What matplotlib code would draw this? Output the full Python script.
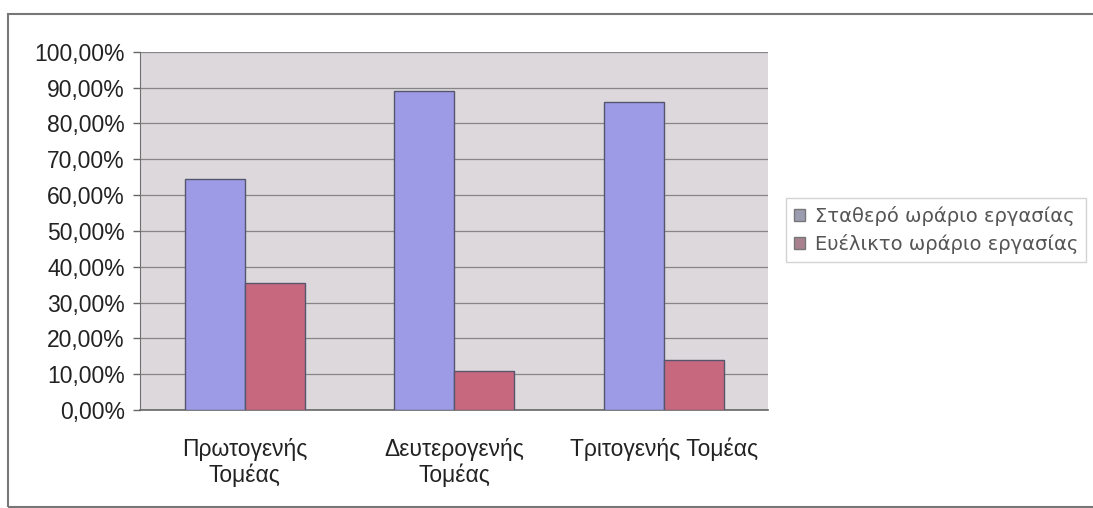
import numpy as np
import matplotlib.pyplot as plt
from matplotlib.patches import Rectangle, Patch
from matplotlib.ticker import FuncFormatter

# Sector shares of fixed vs flexible working hours
sectors = ['Πρωτογενής\nΤομέας', 'Δευτερογενής\nΤομέας', 'Τριτογενής Τομέας']
fixed_hours = [64.5, 89.0, 86.0]
flexible_hours = [35.5, 11.0, 14.0]
series_names = ['Σταθερό ωράριο εργασίας', 'Ευέλικτο ωράριο εργασίας']

blue = '#9d9be6'
red = '#c8687e'

fig = plt.figure(figsize=(10.93, 5.08), dpi=100, facecolor='white')
ax = fig.add_axes([0.128, 0.193, 0.575, 0.705])
ax.set_facecolor('#dcd8dc')

x = np.arange(len(sectors))
w = 0.287
ax.bar(x - w / 2, fixed_hours, width=w, color=blue, edgecolor='#55556e', linewidth=1.0, zorder=3)
ax.bar(x + w / 2, flexible_hours, width=w, color=red, edgecolor='#55556e', linewidth=1.0, zorder=3)

ax.set_xlim(-0.5, len(sectors) - 0.5)
ax.set_ylim(0, 100)
ax.set_yticks(np.arange(0, 101, 10))
ax.yaxis.set_major_formatter(FuncFormatter(lambda v, p: f'{v:.2f}%'.replace('.', ',')))
ax.yaxis.grid(True, color='#858585', linewidth=0.9, zorder=1)

ax.set_xticks(x)
ax.set_xticklabels(sectors, family=['Liberation Sans', 'DejaVu Sans'],
                   fontsize=16.5, color='#222222', linespacing=1.15)
ax.tick_params(axis='x', length=0, pad=20)
ax.tick_params(axis='y', length=5, width=1, color='#666666', labelsize=16.5, labelcolor='#222222', pad=6)
for lab in ax.get_yticklabels():
    lab.set_family(['Liberation Sans', 'DejaVu Sans'])

for side in ['top', 'right']:
    ax.spines[side].set_visible(False)
ax.spines['left'].set_color('#707070')
ax.spines['bottom'].set_color('#666666')
ax.spines['bottom'].set_linewidth(1.2)

# Legend with muted square markers
handles = [Patch(facecolor='#9c9cb0', edgecolor='#777777'),
           Patch(facecolor='#a8808e', edgecolor='#777777')]
leg = fig.legend(handles, series_names, loc='center left',
                 bbox_to_anchor=(776 / 1093, 1 - 230 / 508),
                 frameon=True, fancybox=False, handlelength=0.6, handleheight=0.6,
                 handletextpad=0.5, labelspacing=0.4, borderpad=0.4,
                 prop={'family': ['DejaVu Sans'], 'size': 14})
leg.get_frame().set_edgecolor('#c8c8c8')
leg.get_frame().set_linewidth(1.0)
for t in leg.get_texts():
    t.set_color('#555555')

# Outer chart border
fig.patches.append(Rectangle((8 / 1093, 1 / 508), 1.2, 1 - 15 / 508, transform=fig.transFigure,
                             fill=False, edgecolor='#777777', linewidth=1.5))

fig.savefig('out.png', dpi=100)
